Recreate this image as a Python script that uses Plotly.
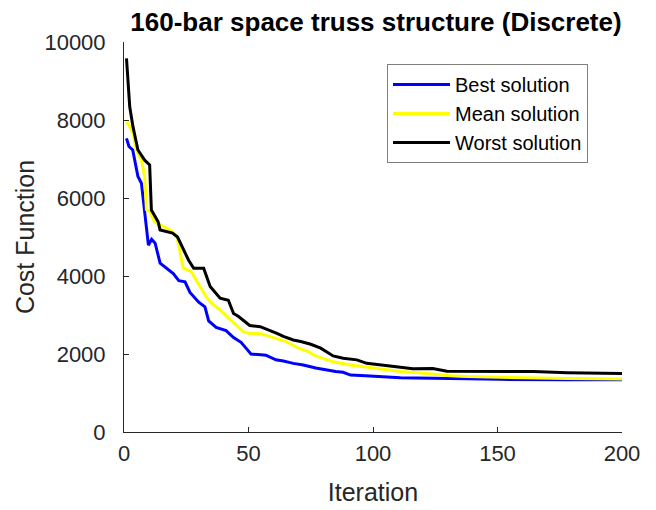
import plotly.graph_objects as go

# Iteration / cost values
best_x = [1, 2, 3.5, 4.3, 5.6, 7, 7.6, 9, 9.8, 11.1, 12.5, 14.5, 17, 19.8, 22, 24.5, 26.5, 30, 32.5, 34,
          37, 41, 44, 47, 49, 51, 55, 57, 61, 64, 68, 72, 77, 82, 85, 88, 91, 97, 104, 111, 124, 138,
          151, 178, 200]
best_y = [7530, 7320, 7230, 6970, 6550, 6380, 6030, 5300, 4790, 4940, 4840, 4330, 4200, 4060, 3880,
          3850, 3580, 3330, 3210, 2850, 2680, 2600, 2420, 2300, 2150, 2000, 1980, 1970, 1850, 1820,
          1760, 1720, 1640, 1580, 1550, 1530, 1460, 1440, 1420, 1390, 1380, 1360, 1350, 1340, 1340]

mean_x = [1, 2, 3.6, 4.9, 7, 8.3, 9, 10.3, 12.3, 15.5, 18.5, 21.2, 22.5, 23.8, 27, 29.2, 30.5, 33.2,
          35.2, 38.6, 41.9, 45, 48, 50, 55, 61, 65, 70, 74, 77, 84, 91, 97.5, 104, 111, 118, 124, 131,
          138, 151, 164, 178, 200]
mean_y = [7950, 7870, 7660, 7230, 6970, 6550, 5700, 5650, 5390, 5290, 5180, 5020, 4580, 4200, 4110,
          3850, 3730, 3450, 3300, 3130, 2920, 2750, 2570, 2530, 2520, 2400, 2320, 2150, 2060, 1950,
          1800, 1720, 1660, 1610, 1550, 1520, 1480, 1440, 1420, 1400, 1385, 1370, 1360]

worst_x = [1, 2.3, 3.6, 5.6, 8.3, 10.3, 11, 13.7, 14.5, 19.5, 21.5, 23.8, 25.9, 28, 32, 34.6, 38.6,
           41.9, 44, 46, 50.5, 54.7, 58, 61.4, 64, 68, 71, 75, 79, 82, 84, 88, 93.5, 97.5, 104, 111,
           116, 124, 129.7, 151, 164.5, 178, 200]
worst_y = [9580, 8340, 7830, 7230, 6970, 6850, 5690, 5390, 5180, 5100, 5000, 4670, 4410, 4200, 4200,
           3730, 3430, 3380, 3040, 2960, 2730, 2700, 2620, 2530, 2450, 2360, 2320, 2250, 2150, 2040,
           1950, 1890, 1850, 1760, 1720, 1660, 1620, 1630, 1560, 1560, 1550, 1520, 1500]

x_ticks = [0, 50, 100, 150, 200]
y_ticks = [0, 2000, 4000, 6000, 8000, 10000]
y_tick_text = ["0", "2000", "4000", "6000", "8000", "10000"]

FONT = "Liberation Sans, Arial, sans-serif"
GREY = "#262626"

fig = go.Figure()
fig.add_trace(go.Scatter(x=best_x, y=best_y, mode="lines", name="Best solution",
                         line=dict(color="#0000FF", width=3)))
fig.add_trace(go.Scatter(x=mean_x, y=mean_y, mode="lines", name="Mean solution",
                         line=dict(color="#FFFF00", width=3)))
fig.add_trace(go.Scatter(x=worst_x, y=worst_y, mode="lines", name="Worst solution",
                         line=dict(color="#000000", width=3)))

axis_common = dict(showgrid=False, zeroline=False, showline=True, linecolor=GREY, linewidth=1,
                   ticks="inside", ticklen=5, tickcolor=GREY, mirror=False, automargin=False,
                   tickfont=dict(family=FONT, size=22, color=GREY))

fig.update_layout(
    width=656, height=510,
    margin=dict(l=116, r=42, t=34, b=86),
    paper_bgcolor="white", plot_bgcolor="white",
    title=dict(text="<b>160-bar space truss structure (Discrete)</b>", x=368 / 656, xanchor="center",
               xref="container", y=1 - 14 / 510, yanchor="middle",
               font=dict(family=FONT, size=26, color="#000000")),
    xaxis=dict(range=[0, 200], tickvals=x_ticks, ticklabelstandoff=2, **axis_common,
               title=dict(text="Iteration", font=dict(family=FONT, size=25, color=GREY), standoff=18)),
    yaxis=dict(range=[0, 10000], tickvals=y_ticks, ticktext=y_tick_text, ticklabelstandoff=13,
               **axis_common,
               title=dict(text="Cost Function", font=dict(family=FONT, size=25, color=GREY), standoff=2)),
    legend=dict(x=(387 - 124) / 498, y=(432 - 64) / 390, xanchor="left", yanchor="top", bgcolor="white",
                bordercolor="#7f7f7f", borderwidth=1, font=dict(family=FONT, size=20, color="#000000"),
                tracegroupgap=0, itemwidth=57),
    showlegend=True,
)

fig.write_html("out.html")
